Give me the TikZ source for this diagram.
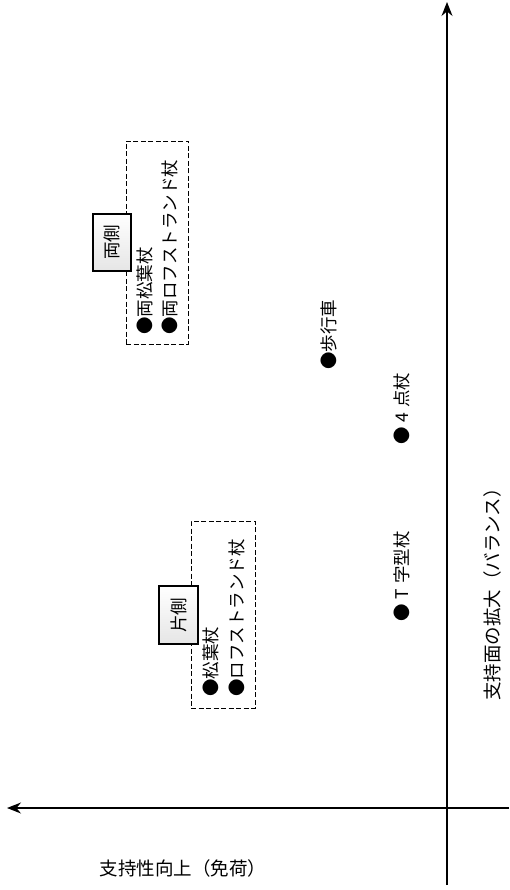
\documentclass[tikz,border=0pt]{standalone}
\usepackage{fontspec}
\setmainfont{Noto Sans CJK JP}
\usetikzlibrary{arrows.meta}
\begin{document}
\begin{tikzpicture}[x=1pt,y=-1pt,
  lbl/.style={font=\fontsize{17.5}{17.5}\selectfont, rotate=90, anchor=west, inner sep=0pt},
  axlbl/.style={font=\fontsize{18.5}{18.5}\selectfont, inner sep=0pt},
  grp/.style={draw, dash pattern=on 5pt off 2.5pt, line width=0.9pt, inner sep=0pt},
  tag/.style={draw, line width=1.4pt, top color=white, bottom color=gray!20, rotate=90,
    font=\fontsize{17.5}{17.5}\selectfont, inner sep=0pt},
  axis/.style={line width=1.3pt, -{Stealth[length=14pt,width=11pt]}}
]
\useasboundingbox (0,0) rectangle (509,890);
% axes
\coordinate (vs) at (447,885);
\coordinate (ve) at (447,2);
\coordinate (hs) at (509,808);
\coordinate (he) at (7,808);
\draw[axis] (vs) -- (ve);
\draw[axis] (hs) -- (he);
% groups
\node[grp, minimum width=62pt, minimum height=203pt] (g2) at (157,242.5) {};
\node[grp, minimum width=64pt, minimum height=187pt] (g1) at (223,614.5) {};
\node[tag, minimum width=57pt, minimum height=38pt] (t2) at (112,242.5) {両側};
\node[tag, minimum width=58pt, minimum height=39pt] (t1) at (178.5,615) {片側};
% items
\node[lbl] (a1) at (145,335) {●両松葉杖};
\node[lbl] (a2) at (170,335) {●両ロフストランド杖};
\node[lbl] (b1) at (211,697) {●松葉杖};
\node[lbl] (b2) at (237,697) {●ロフストランド杖};
\node[lbl] (c1) at (329,370) {●歩行車};
\node[lbl] (c2) at (402,445) {●\hspace{5pt}4\hspace{5pt}点杖};
\node[lbl] (c3) at (402,622) {●\hspace{5pt}T\hspace{5pt}字型杖};
% axis labels
\node[axlbl, rotate=90, anchor=west] (xl) at (492,701) {支持面の拡大（バランス）};
\node[axlbl] (yl) at (183,868) {支持性向上（免荷）};
\end{tikzpicture}
\end{document}
